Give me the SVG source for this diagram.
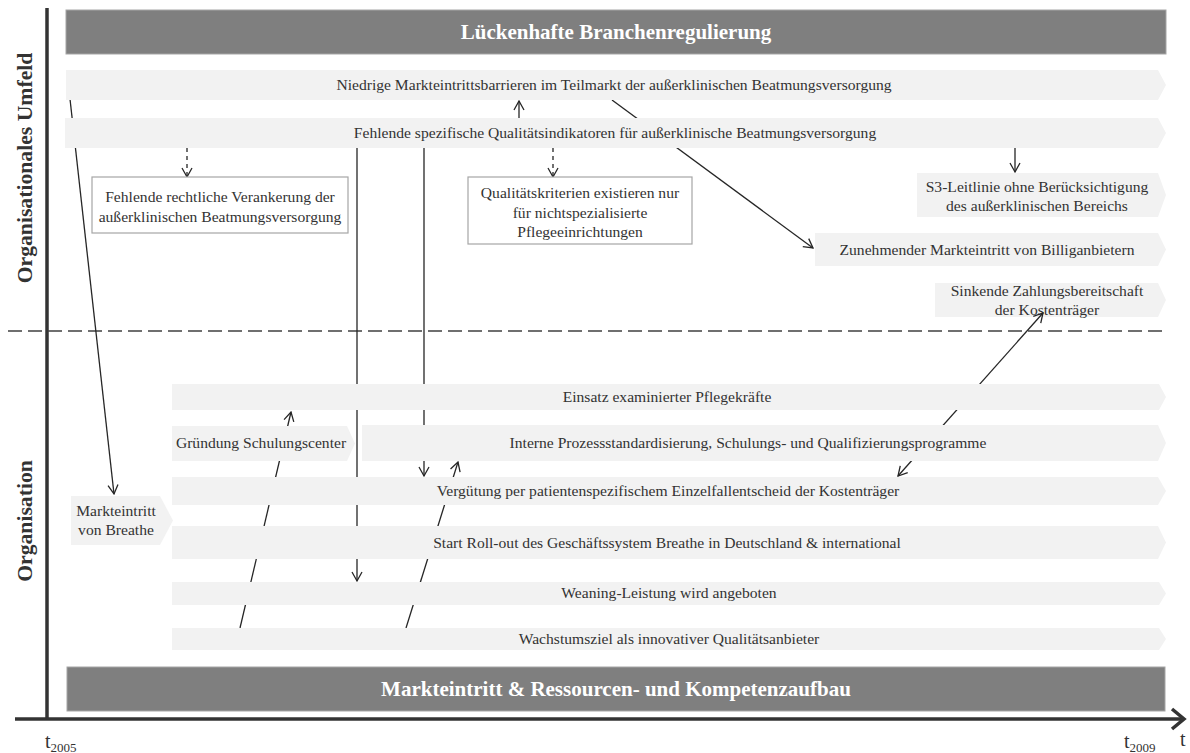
<svg xmlns="http://www.w3.org/2000/svg" width="1190" height="753" viewBox="0 0 1190 753">
  <style>
    .bar { fill: #f2f2f2; }
    .band { fill: #7f7f7f; stroke: #a6a6a6; stroke-width: 1; }
    .box { fill: #ffffff; stroke: #a6a6a6; stroke-width: 1.2; }
    .t { font-family: "Liberation Serif", "Times New Roman", serif; font-size: 15.6px; fill: #333333; text-anchor: middle; }
    .hd { font-family: "Liberation Serif", "Times New Roman", serif; font-size: 21px; font-weight: bold; fill: #ffffff; text-anchor: middle; }
    .side { font-family: "Liberation Serif", "Times New Roman", serif; font-size: 21.7px; font-weight: bold; fill: #333333; text-anchor: middle; }
    .ax { font-family: "Liberation Serif", "Times New Roman", serif; fill: #333333; }
    .ln { fill: none; stroke: #262626; stroke-width: 1.3; }
    .dash { stroke-dasharray: 4 4; }
  </style>
  <defs>
    <marker id="ah" viewBox="0 0 12 12" refX="10.5" refY="6" markerWidth="12" markerHeight="12" markerUnits="userSpaceOnUse" orient="auto-start-reverse">
      <path d="M1.5,1 L10.5,6 L1.5,11" fill="none" stroke="#262626" stroke-width="1.3"/>
    </marker>
  </defs>

  <rect width="1190" height="753" fill="#ffffff"/>

  <!-- axes -->
  <g id="axes">
    <line x1="47" y1="8" x2="47" y2="720" stroke="#333333" stroke-width="3.5"/>
    <line x1="15" y1="719" x2="1182" y2="719" stroke="#333333" stroke-width="3.5"/>
    <polyline points="1172,709 1184,719 1172,729" fill="none" stroke="#333333" stroke-width="3.5"/>
    <text class="ax" x="45" y="748" font-size="20">t<tspan font-size="13" dy="4">2005</tspan></text>
    <text class="ax" x="1124" y="748" font-size="20">t<tspan font-size="13" dy="4">2009</tspan></text>
    <text class="ax" x="1180" y="746" font-size="20">t</text>
    <line x1="8" y1="331" x2="1168" y2="331" stroke="#404040" stroke-width="1.5" stroke-dasharray="14 6"/>
    <text class="side" transform="translate(32,168) rotate(-90)">Organisationales Umfeld</text>
    <text class="side" transform="translate(32,521) rotate(-90)">Organisation</text>
  </g>

  <!-- payer readiness node sits below the connector layer so the arrow tip overlaps it -->
  <g id="n-zahlungsbereitschaft">
    <path class="bar" d="M935,283 H1158 L1166,300 L1158,317 H935 Z"/>
    <text class="t" x="1047" y="296">Sinkende Zahlungsbereitschaft</text>
    <text class="t" x="1047" y="315">der Kostenträger</text>
  </g>

  <!-- connectors -->
  <g id="connectors">
    <line class="ln" x1="70" y1="99" x2="114" y2="494" marker-end="url(#ah)"/>
    <line class="ln" x1="612" y1="100" x2="813" y2="248" marker-end="url(#ah)"/>
    <line class="ln" x1="519" y1="118" x2="519" y2="101" marker-end="url(#ah)"/>
    <line class="ln dash" x1="187" y1="148" x2="187" y2="177" marker-end="url(#ah)"/>
    <line class="ln dash" x1="553" y1="148" x2="553" y2="177" marker-end="url(#ah)"/>
    <line class="ln" x1="1015" y1="148" x2="1015" y2="172" marker-end="url(#ah)"/>
    <line class="ln" x1="357" y1="148" x2="357" y2="581" marker-end="url(#ah)"/>
    <line class="ln" x1="424" y1="148" x2="424" y2="476" marker-end="url(#ah)"/>
    <line class="ln" x1="240" y1="628" x2="291" y2="412" marker-end="url(#ah)"/>
    <line class="ln" x1="406" y1="628" x2="458" y2="462" marker-end="url(#ah)"/>
    <line class="ln" x1="898" y1="476" x2="1043" y2="313" marker-start="url(#ah)" marker-end="url(#ah)"/>
  </g>

  <!-- environment level -->
  <g id="n-branchenregulierung">
    <rect class="band" x="66" y="10" width="1100" height="44"/>
    <text class="hd" x="616" y="39">Lückenhafte Branchenregulierung</text>
  </g>
  <g id="n-eintrittsbarrieren">
    <path class="bar" d="M66,70 H1158 L1166,85 L1158,100 H66 Z"/>
    <text class="t" x="614" y="90">Niedrige Markteintrittsbarrieren im Teilmarkt der außerklinischen Beatmungsversorgung</text>
  </g>
  <g id="n-qualitaetsindikatoren">
    <path class="bar" d="M65,118 H1158 L1166,133 L1158,148 H65 Z"/>
    <text class="t" x="615" y="138">Fehlende spezifische Qualitätsindikatoren für außerklinische Beatmungsversorgung</text>
  </g>
  <g id="n-verankerung">
    <rect class="box" x="92" y="177" width="256" height="56"/>
    <text class="t" x="220" y="202">Fehlende rechtliche Verankerung der</text>
    <text class="t" x="220" y="222">außerklinischen Beatmungsversorgung</text>
  </g>
  <g id="n-qualitaetskriterien">
    <rect class="box" x="468" y="177" width="224" height="67"/>
    <text class="t" x="580" y="198">Qualitätskriterien existieren nur</text>
    <text class="t" x="580" y="218">für nichtspezialisierte</text>
    <text class="t" x="580" y="237">Pflegeeinrichtungen</text>
  </g>
  <g id="n-s3-leitlinie">
    <path class="bar" d="M917,173 H1158 L1166,195 L1158,217 H917 Z"/>
    <text class="t" x="1037" y="192">S3-Leitlinie ohne Berücksichtigung</text>
    <text class="t" x="1037" y="211">des außerklinischen Bereichs</text>
  </g>
  <g id="n-billiganbieter">
    <path class="bar" d="M815,233 H1158 L1166,249.5 L1158,266 H815 Z"/>
    <text class="t" x="987" y="255">Zunehmender Markteintritt von Billiganbietern</text>
  </g>

  <!-- organisation level -->
  <g id="n-pflegekraefte">
    <path class="bar" d="M172,384 H1159 L1166,397 L1159,410 H172 Z"/>
    <text class="t" x="667" y="402">Einsatz examinierter Pflegekräfte</text>
  </g>
  <g id="n-schulungscenter">
    <path class="bar" d="M172,426 H347 L355,443.5 L347,461 H172 Z"/>
    <text class="t" x="261" y="448">Gründung Schulungscenter</text>
  </g>
  <g id="n-prozessstandardisierung">
    <path class="bar" d="M362,425 H1158 L1166,443 L1158,461 H362 Z"/>
    <text class="t" x="748" y="448">Interne Prozessstandardisierung, Schulungs- und Qualifizierungsprogramme</text>
  </g>
  <g id="n-verguetung">
    <path class="bar" d="M172,477 H1158 L1166,491 L1158,505 H172 Z"/>
    <text class="t" x="668" y="496">Vergütung per patientenspezifischem Einzelfallentscheid der Kostenträger</text>
  </g>
  <g id="n-markteintritt-breathe">
    <path class="bar" d="M71,496 H160 L173,520.5 L160,545 H71 Z"/>
    <text class="t" x="116" y="516">Markteintritt</text>
    <text class="t" x="116" y="535">von Breathe</text>
  </g>
  <g id="n-rollout">
    <path class="bar" d="M172,526 H1158 L1166,542.5 L1158,559 H172 Z"/>
    <text class="t" x="667" y="548">Start Roll-out des Geschäftssystem Breathe in Deutschland &amp; international</text>
  </g>
  <g id="n-weaning">
    <path class="bar" d="M172,582 H1159 L1166,593.5 L1159,605 H172 Z"/>
    <text class="t" x="669" y="598">Weaning-Leistung wird angeboten</text>
  </g>
  <g id="n-wachstumsziel">
    <path class="bar" d="M172,628 H1159 L1166,639 L1159,650 H172 Z"/>
    <text class="t" x="669" y="644">Wachstumsziel als innovativer Qualitätsanbieter</text>
  </g>
  <g id="n-ressourcenaufbau">
    <rect class="band" x="67" y="667" width="1098" height="44"/>
    <text class="hd" x="616" y="696">Markteintritt &amp; Ressourcen- und Kompetenzaufbau</text>
  </g>
</svg>
